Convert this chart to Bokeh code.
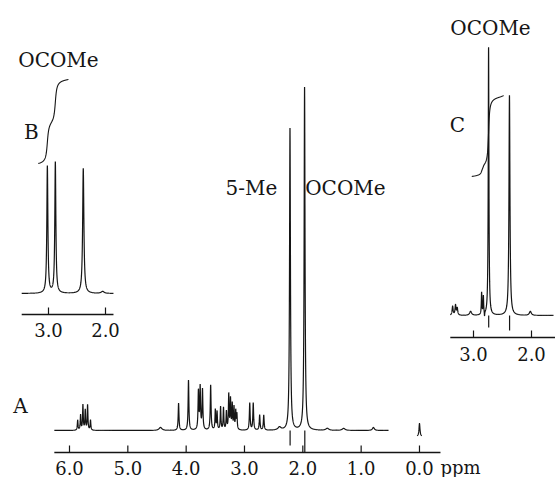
import numpy as np
from bokeh.plotting import figure
from bokeh.models import Range1d
from bokeh.core.properties import value
from bokeh.embed import file_html
from bokeh.resources import INLINE

# ---------------- data ----------------
# Spectrum A (full range): peak positions (ppm), intensities, half widths (ppm)
a_ppm = [5.86, 5.81, 5.77, 5.73, 5.69, 5.64, 4.44, 4.13, 3.96, 3.79, 3.76, 3.72,
         3.58, 3.50, 3.47, 3.41, 3.36, 3.31, 3.27, 3.24, 3.21, 3.18, 3.15, 3.13,
         2.91, 2.85, 2.74, 2.67, 2.40, 2.22, 1.97, 1.58, 1.30, 0.79]
a_height = [10, 15, 25, 20, 25, 10, 3, 27, 50, 38, 42, 40,
            45, 20, 18, 23, 22, 18, 35, 30, 25, 22, 18, 15,
            27, 27, 15, 15, 3, 302, 343, 2, 2, 3]
a_hwhm = [0.007, 0.007, 0.007, 0.007, 0.007, 0.007, 0.03, 0.008, 0.008, 0.008, 0.008, 0.008,
          0.008, 0.007, 0.007, 0.007, 0.007, 0.007, 0.007, 0.007, 0.007, 0.007, 0.007, 0.007,
          0.008, 0.008, 0.008, 0.008, 0.03, 0.009, 0.009, 0.03, 0.03, 0.02]
a_span = [6.26, 0.53]
a_drop_ppm = [2.218, 1.966]          # pen strokes below the baseline
a_drop_depth = [-15, -22]
a_tms = [0.0, 13, -6, 0.01]          # position, height, base, half width
a_ticks = [6.0, 5.0, 4.0, 3.0, 2.0, 1.0, 0.0]
a_tick_labels = ["6.0", "5.0", "4.0", "3.0", "2.0", "1.0", "0.0"]
a_axis_span = [6.26, -0.36]

# Inset B
b_ppm = [3.02, 2.88, 2.39, 2.05]
b_height = [127, 131, 125, 2]
b_hwhm = [0.011, 0.011, 0.013, 0.03]
b_span = [3.47, 1.86]
b_ticks = [3.0, 2.0]
b_tick_labels = ["3.0", "2.0"]
b_integral = [3.18, 2.65, 130, 84]   # from, to, start level, rise

# Inset C
c_ppm = [3.36, 3.31, 3.28, 3.05, 2.86, 2.83, 2.81, 2.74, 2.38, 2.02]
c_height = [9, 10, 7, 4, 22, 18, -5, 268, 220, 4]
c_hwhm = [0.01, 0.01, 0.01, 0.02, 0.006, 0.006, 0.004, 0.007, 0.01, 0.02]
c_span = [3.40, 1.62]
c_drop_ppm = [2.738, 2.378]
c_drop_depth = [-12, -15]
c_ticks = [3.0, 2.0]
c_tick_labels = ["3.0", "2.0"]
c_integral = [3.03, 2.48, 139, 81]

# ---------------- layout ----------------
W, H = 555, 477
FONT = value("DejaVu Serif")
INK = "#151515"


def spectrum(grid, pos, h, g):
    out = np.zeros_like(grid)
    for p0, h0, g0 in zip(pos, h, g):
        out += h0 * g0 ** 2 / ((grid - p0) ** 2 + g0 ** 2)
    return out


def xrange_from(anchor_ppm, anchor_x, px_per_ppm):
    return Range1d(anchor_ppm + anchor_x / px_per_ppm, anchor_ppm - (W - anchor_x) / px_per_ppm)


def yrange_from(baseline_y):
    return Range1d(-(H - baseline_y), baseline_y)


p = figure(width=W, height=H, output_backend="svg", toolbar_location=None,
           title=None, x_axis_location=None, y_axis_location=None,
           x_range=xrange_from(6.0, 69, 58.33), y_range=yrange_from(430),
           min_border=0, outline_line_color=None,
           background_fill_color="white", border_fill_color="white")
p.grid.visible = False
p.extra_x_ranges = {"B": xrange_from(3.0, 48, 57.0), "C": xrange_from(3.0, 473, 58.0)}
p.extra_y_ranges = {"B": yrange_from(293), "C": yrange_from(315)}


def draw_axis(span, ticks, labels, axis_y, label_y, rx="default", ry="default"):
    p.segment(x0=[span[0]], y0=[axis_y], x1=[span[1]], y1=[axis_y],
              line_color=INK, line_width=1.3, x_range_name=rx, y_range_name=ry)
    p.segment(x0=ticks, y0=[axis_y] * len(ticks), x1=ticks, y1=[axis_y + 7] * len(ticks),
              line_color=INK, line_width=1.2, x_range_name=rx, y_range_name=ry)
    p.text(x=ticks, y=[label_y] * len(ticks), text=labels, text_font=FONT,
           text_font_size="18px", text_align="center", text_baseline="middle",
           text_color=INK, x_range_name=rx, y_range_name=ry)


def draw_drops(pos, depth, rx="default", ry="default"):
    p.segment(x0=pos, y0=[0] * len(pos), x1=pos, y1=depth, line_color=INK,
              line_width=1.2, x_range_name=rx, y_range_name=ry)


# ---- spectrum A ----
ga = np.arange(a_span[0], a_span[1], -0.0005)
p.line(ga, spectrum(ga, a_ppm, a_height, a_hwhm), line_color=INK, line_width=1.2)
draw_drops(a_drop_ppm, a_drop_depth)
gt = np.arange(a_tms[0] + 0.04, a_tms[0] - 0.04, -0.0005)
p.line(gt, a_tms[2] + spectrum(gt, [a_tms[0]], [a_tms[1]], [a_tms[3]]),
       line_color=INK, line_width=1.2)
draw_axis(a_axis_span, a_ticks, a_tick_labels, -22, -37)
p.text(x=[-0.36], y=[-37], text=["ppm"], text_font=FONT, text_font_size="18px",
       text_align="left", text_baseline="middle", text_color=INK)

# ---- inset B ----
gb = np.arange(b_span[0], b_span[1], -0.0005)
p.line(gb, spectrum(gb, b_ppm, b_height, b_hwhm), line_color=INK, line_width=1.2,
       x_range_name="B", y_range_name="B")
gbi = np.arange(b_integral[0], b_integral[1], -0.0005)
cb = np.cumsum(spectrum(gbi, b_ppm, b_height, [0.02] * len(b_ppm)))
p.line(gbi, b_integral[2] + b_integral[3] * (cb - cb[0]) / (cb[-1] - cb[0]),
       line_color=INK, line_width=1.1, x_range_name="B", y_range_name="B")
draw_axis([b_span[0], b_span[1]], b_ticks, b_tick_labels, -21, -36, "B", "B")

# ---- inset C ----
gc = np.arange(c_span[0], c_span[1], -0.0005)
p.line(gc, spectrum(gc, c_ppm, c_height, c_hwhm), line_color=INK, line_width=1.2,
       x_range_name="C", y_range_name="C")
draw_drops(c_drop_ppm, c_drop_depth, "C", "C")
gci = np.arange(c_integral[0], c_integral[1], -0.0005)
cc = np.cumsum(spectrum(gci, c_ppm, c_height, [0.015] * len(c_ppm)).clip(0))
p.line(gci, c_integral[2] + c_integral[3] * (cc - cc[0]) / (cc[-1] - cc[0]),
       line_color=INK, line_width=1.1, x_range_name="C", y_range_name="C")
draw_axis([3.40, 1.35], c_ticks, c_tick_labels, -22, -38, "C", "C")

# ---- annotations ----
p.text(x=[6.84, 2.88, 1.27], y=[25, 243, 243], text=["A", "5-Me", "OCOMe"],
       text_font=FONT, text_font_size="20px", text_align="center",
       text_baseline="middle", text_color=INK)
p.text(x=[2.825, 3.30], y=[234, 162], text=["OCOMe", "B"], text_font=FONT,
       text_font_size="20px", text_align="center", text_baseline="middle",
       text_color=INK, x_range_name="B", y_range_name="B")
p.text(x=[2.707, 3.276], y=[288, 191], text=["OCOMe", "C"], text_font=FONT,
       text_font_size="20px", text_align="center", text_baseline="middle",
       text_color=INK, x_range_name="C", y_range_name="C")

open("out.html", "w").write(file_html(p, INLINE))
